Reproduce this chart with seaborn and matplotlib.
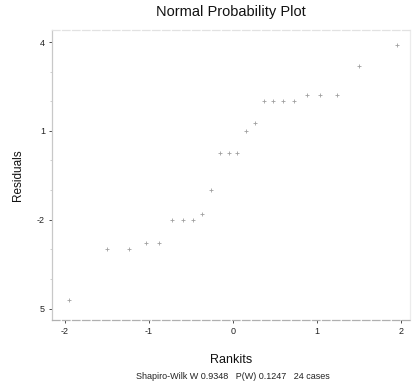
import matplotlib
matplotlib.use("Agg")
import matplotlib.pyplot as plt
import seaborn as sns
import pandas as pd
import numpy as np
from matplotlib.ticker import MultipleLocator

rankits = [-1.95, -1.50, -1.24, -1.04, -0.88, -0.73, -0.60, -0.48, -0.37, -0.26,
           -0.15, -0.05, 0.05, 0.15, 0.26, 0.37, 0.48, 0.60, 0.73, 0.88,
           1.04, 1.24, 1.50, 1.95]
residuals = [-4.7, -3.0, -3.0, -2.8, -2.8, -2.0, -2.0, -2.0, -1.8, -1.0,
             0.25, 0.25, 0.25, 1.0, 1.25, 2.0, 2.0, 2.0, 2.0, 2.2,
             2.2, 2.2, 3.2, 3.9]
x_ticks = [-2, -1, 0, 1, 2]
x_tick_labels = ["-2", "-1", "0", "1", "2"]
y_ticks = [-5, -2, 1, 4]
y_tick_labels = ["5", "-2", "1", "4"]

df = pd.DataFrame({"Rankits": rankits, "Residuals": residuals})

sns.set_theme(style="white")
plt.rcParams["font.family"] = ["Liberation Sans", "DejaVu Sans"]

fig = plt.figure(figsize=(4.12, 3.82), dpi=100)
ax = fig.add_axes([0.126, 0.162, 0.869, 0.759])

sns.scatterplot(data=df, x="Rankits", y="Residuals", marker="+", s=10,
                color="#a0a0a0", linewidth=0.6, ax=ax, legend=False)

ax.set_xlim(-2.155, 2.107)
ax.set_ylim(-5.39, 4.4)
ax.set_xticks(x_ticks)
ax.set_xticklabels(x_tick_labels)
ax.set_yticks(y_ticks)
ax.set_yticklabels(y_tick_labels)
ax.yaxis.set_minor_locator(MultipleLocator(1))
ax.tick_params(axis="both", which="major", labelsize=6.5, colors="#333333",
               length=2, width=0.6, direction="out", left=True, bottom=True, pad=3)
ax.tick_params(axis="y", which="minor", length=1.5, width=0.5, colors="#bbbbbb", left=True)
for lab in ax.get_xticklabels() + ax.get_yticklabels():
    lab.set_color("#222222")

for side, col in [("left", "#c8c8c8"), ("bottom", "#b0b0b0"), ("top", "#e2e2e2"), ("right", "#ececec")]:
    ax.spines[side].set_color(col)
    ax.spines[side].set_linewidth(0.9)
ax.spines["bottom"].set_linestyle((0, (6, 2)))
ax.spines["top"].set_linestyle((0, (6, 2)))

ax.set_title("Normal Probability Plot", fontsize=10.5, color="#111111", pad=10)
ax.set_xlabel("Rankits", fontsize=9, color="#111111", labelpad=13)
ax.set_ylabel("Residuals", fontsize=8.5, color="#111111", labelpad=9)

fig.text(0.565, 0.002, "Shapiro-Wilk W 0.9348   P(W) 0.1247   24 cases",
         ha="center", va="bottom", fontsize=6.5, color="#222222")

fig.savefig("out.png", dpi=100)
